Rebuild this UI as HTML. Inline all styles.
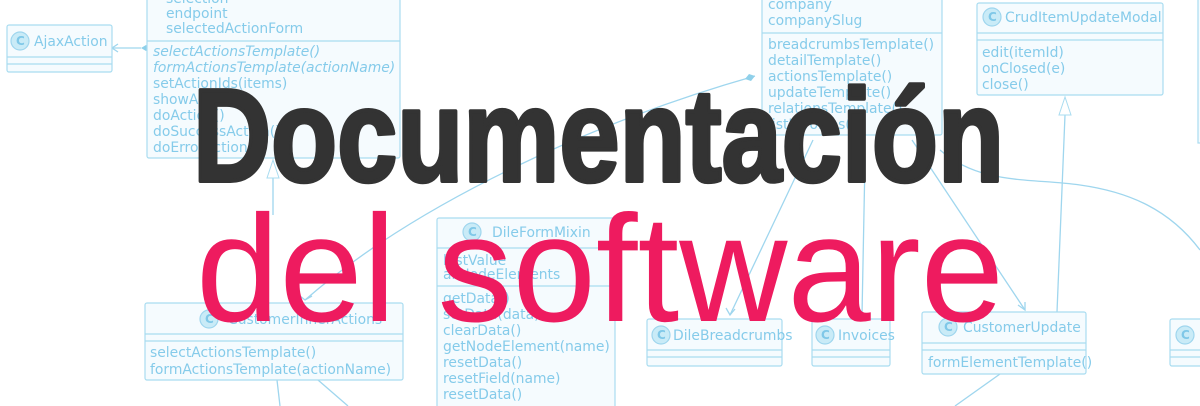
<!DOCTYPE html>
<html><head><meta charset="utf-8"><style>
html,body{margin:0;padding:0;background:#fff;width:1200px;height:406px;overflow:hidden}
svg{display:block}
.b{fill:#f5fbfe;stroke:#a9dcf0;stroke-width:1.2}
.l{stroke:#a9dcf0;stroke-width:1.2;fill:none}
.c{stroke:#9fd6ee;stroke-width:1.3;fill:none}
.t{font-family:"DejaVu Sans",sans-serif;font-size:13.9px;fill:#85cbea}
.i{font-style:italic}
.ci{fill:#c9ebf7;stroke:#9fd6ee;stroke-width:1.2}
.cl{font-family:"DejaVu Sans",sans-serif;font-size:12px;font-weight:bold;fill:#7fc8e8}
</style></head><body>
<svg width="1200" height="406" viewBox="0 0 1200 406" xmlns="http://www.w3.org/2000/svg">
<path class="c" d="M112 48 L141 48"/>
<path class="c" d="M118 44 L112 48 L118 52" />
<polygon points="141,48 146,45 151,48 146,51" fill="#8fd0ea"/>
<path class="c" d="M273 165 L273 215"/>
<polygon points="273,160 267,178 279,178" fill="#fff" stroke="#a9dcf0"/>
<path class="c" d="M755 76 C600 120 420 200 305 300"/>
<polygon points="755,76 749,74 745,79 751,81" fill="#8fd0ea"/>
<path class="c" d="M300 296 L305 300 L312 296"/>
<path class="c" d="M813 140 L730 315"/>
<path class="c" d="M726 308 L730 315 L735 309"/>
<path class="c" d="M865 160 L862 315"/>
<path class="c" d="M912 140 L1025 310"/>
<path class="c" d="M1018 305 L1025 310 L1025 302"/>
<path class="c" d="M940 150 C980 185 1030 178 1080 185 C1130 192 1170 210 1200 250"/>
<path class="c" d="M1065 115 L1057 312"/>
<polygon points="1065,97 1059,115 1071,115" fill="#fff" stroke="#a9dcf0"/>
<path class="c" d="M277 380 L280 406"/>
<path class="c" d="M318 380 L348 406"/>
<path class="c" d="M1000 374 L955 406"/>

<rect class="b" x="7" y="25" width="105" height="47" rx="2"/>
<line class="l" x1="7" y1="57" x2="112" y2="57"/><line class="l" x1="7" y1="64" x2="112" y2="64"/>
<circle class="ci" cx="20" cy="41" r="9"/><text class="cl" x="16" y="45">C</text>
<text class="t" x="34" y="46">AjaxAction</text>

<rect class="b" x="147" y="-20" width="253" height="178" rx="2"/>
<line class="l" x1="147" y1="41" x2="400" y2="41"/>
<text class="t" x="166" y="3">selection</text>
<text class="t" x="166" y="18">endpoint</text>
<text class="t" x="166" y="33">selectedActionForm</text>
<text class="t i" x="153" y="56">selectActionsTemplate()</text>
<text class="t i" x="153" y="72">formActionsTemplate(actionName)</text>
<text class="t" x="153" y="88">setActionIds(items)</text>
<text class="t" x="153" y="104">showActions()</text>
<text class="t" x="153" y="120">doAction()</text>
<text class="t" x="153" y="136">doSuccessAction()</text>
<text class="t" x="153" y="152">doErrorAction(e)</text>

<rect class="b" x="762" y="-20" width="180" height="155" rx="2"/>
<line class="l" x1="762" y1="33" x2="942" y2="33"/>
<text class="t" x="768" y="9">company</text>
<text class="t" x="768" y="25">companySlug</text>
<text class="t" x="768" y="49">breadcrumbsTemplate()</text>
<text class="t" x="768" y="65">detailTemplate()</text>
<text class="t" x="768" y="81">actionsTemplate()</text>
<text class="t" x="768" y="97">updateTemplate()</text>
<text class="t" x="768" y="113">relationsTemplate()</text>
<text class="t" x="768" y="129">listInvoices()</text>

<rect class="b" x="977" y="3" width="186" height="92" rx="2"/>
<line class="l" x1="977" y1="33" x2="1163" y2="33"/><line class="l" x1="977" y1="40" x2="1163" y2="40"/>
<circle class="ci" cx="992" cy="17" r="9"/><text class="cl" x="988" y="21">C</text>
<text class="t" x="1005" y="22">CrudItemUpdateModal</text>
<text class="t" x="982" y="57">edit(itemId)</text>
<text class="t" x="982" y="73">onClosed(e)</text>
<text class="t" x="982" y="89">close()</text>
<rect class="b" x="1198" y="-5" width="20" height="148"/>

<rect class="b" x="437" y="218" width="178" height="200" rx="2"/>
<line class="l" x1="437" y1="248" x2="615" y2="248"/><line class="l" x1="437" y1="286" x2="615" y2="286"/>
<circle class="ci" cx="472" cy="232" r="9"/><text class="cl" x="468" y="236">C</text>
<text class="t" x="492" y="237">DileFormMixin</text>
<text class="t" x="443" y="265">lastValue</text>
<text class="t" x="443" y="279">allNodeElements</text>
<text class="t" x="443" y="303">getData()</text>
<text class="t" x="443" y="319">setData(data)</text>
<text class="t" x="443" y="335">clearData()</text>
<text class="t" x="443" y="351">getNodeElement(name)</text>
<text class="t" x="443" y="367">resetData()</text>
<text class="t" x="443" y="383">resetField(name)</text>
<text class="t" x="443" y="399">resetData()</text>

<rect class="b" x="145" y="303" width="258" height="77" rx="2"/>
<line class="l" x1="145" y1="334" x2="403" y2="334"/><line class="l" x1="145" y1="341" x2="403" y2="341"/>
<circle class="ci" cx="209" cy="319" r="9"/><text class="cl" x="205" y="323">C</text>
<text class="t" x="228" y="324">CustomerInnerActions</text>
<text class="t" x="150" y="357">selectActionsTemplate()</text>
<text class="t" x="150" y="374">formActionsTemplate(actionName)</text>

<rect class="b" x="647" y="319" width="135" height="47" rx="2"/>
<line class="l" x1="647" y1="350" x2="782" y2="350"/><line class="l" x1="647" y1="357" x2="782" y2="357"/>
<circle class="ci" cx="661" cy="335" r="9"/><text class="cl" x="657" y="339">C</text>
<text class="t" x="673" y="340">DileBreadcrumbs</text>
<rect class="b" x="812" y="319" width="78" height="47" rx="2"/>
<line class="l" x1="812" y1="350" x2="890" y2="350"/><line class="l" x1="812" y1="357" x2="890" y2="357"/>
<circle class="ci" cx="825" cy="335" r="9"/><text class="cl" x="821" y="339">C</text>
<text class="t" x="838" y="340">Invoices</text>
<rect class="b" x="922" y="312" width="164" height="62" rx="2"/>
<line class="l" x1="922" y1="343" x2="1086" y2="343"/><line class="l" x1="922" y1="350" x2="1086" y2="350"/>
<circle class="ci" cx="948" cy="327" r="9"/><text class="cl" x="944" y="331">C</text>
<text class="t" x="963" y="332">CustomerUpdate</text>
<text class="t" x="928" y="367">formElementTemplate()</text>
<rect class="b" x="1170" y="319" width="45" height="47" rx="2"/>
<line class="l" x1="1170" y1="350" x2="1200" y2="350"/><line class="l" x1="1170" y1="357" x2="1200" y2="357"/>
<circle class="ci" cx="1185" cy="335" r="9"/><text class="cl" x="1181" y="339">C</text>

<text x="193" y="181" textLength="811" lengthAdjust="spacingAndGlyphs" style="font-family:'Liberation Sans Narrow','Liberation Sans',sans-serif;font-weight:bold;font-size:132px;fill:#333333;stroke:#333333;stroke-width:4;stroke-linejoin:round">Documentación</text>
<text x="196" y="321" textLength="808" lengthAdjust="spacingAndGlyphs" style="font-family:'Liberation Sans',sans-serif;font-weight:normal;font-size:152px;fill:#ee1b5f">del software</text>
</svg>
</body></html>
